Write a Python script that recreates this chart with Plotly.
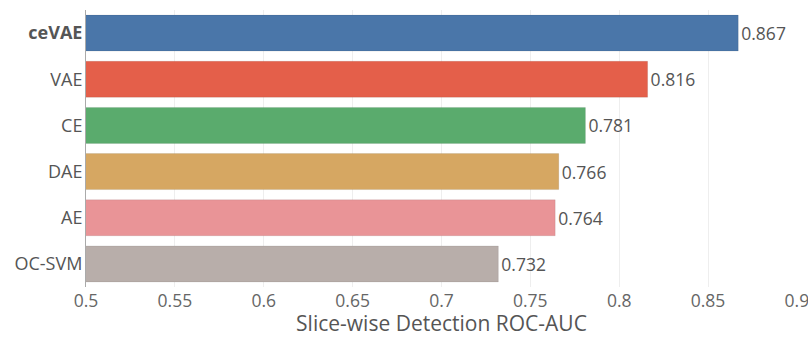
import plotly.graph_objects as go

methods = ["<b>ceVAE</b>", "VAE", "CE", "DAE", "AE", "OC-SVM"]
scores = [0.867, 0.816, 0.781, 0.766, 0.764, 0.732]
colors = ["#4a76a9", "#e45f4a", "#5aab6d", "#d6a762", "#e99497", "#b8aeaa"]
score_labels = ["0.867", "0.816", "0.781", "0.766", "0.764", "0.732"]
x_ticks = [0.5, 0.55, 0.6, 0.65, 0.7, 0.75, 0.8, 0.85, 0.9]
x_tick_text = ["0.5", "0.55", "0.6", "0.65", "0.7", "0.75", "0.8", "0.85", "0.9"]

fig = go.Figure(go.Bar(
    x=scores, y=methods, orientation="h",
    marker=dict(color=colors, line=dict(color="rgba(0,0,0,0.08)", width=1)),
    text=score_labels, textposition="outside", cliponaxis=False,
    textfont=dict(size=17.5, color="#555"),
))
fig.update_layout(
    width=808, height=337,
    margin=dict(l=86, r=11, t=10, b=50),
    plot_bgcolor="white", paper_bgcolor="white",
    font=dict(family="Open Sans", color="#555", size=17),
    bargap=0.22, showlegend=False,
)
fig.update_xaxes(
    range=[0.5, 0.90005], tickvals=x_ticks, ticktext=x_tick_text,
    showgrid=True, gridcolor="#eeeeee", zeroline=False, automargin=False,
    title=dict(text="Slice-wise Detection ROC-AUC", font=dict(size=21, color="#555"), standoff=8),
    tickfont=dict(size=17.5, color="#666"), ticks="", showline=False,
    ticklabelstandoff=1, ticklabeloverflow="allow",
)
fig.update_yaxes(
    categoryorder="array", categoryarray=methods, autorange="reversed",
    showline=True, linecolor="#aaa", linewidth=1, ticks="", ticklen=0,
    automargin=False, ticklabelstandoff=-1,
    tickfont=dict(size=18, color="#555"), showgrid=False,
)
fig.write_html("out.html", config={"displayModeBar": False},
               post_script="document.body.style.margin='0px';")
